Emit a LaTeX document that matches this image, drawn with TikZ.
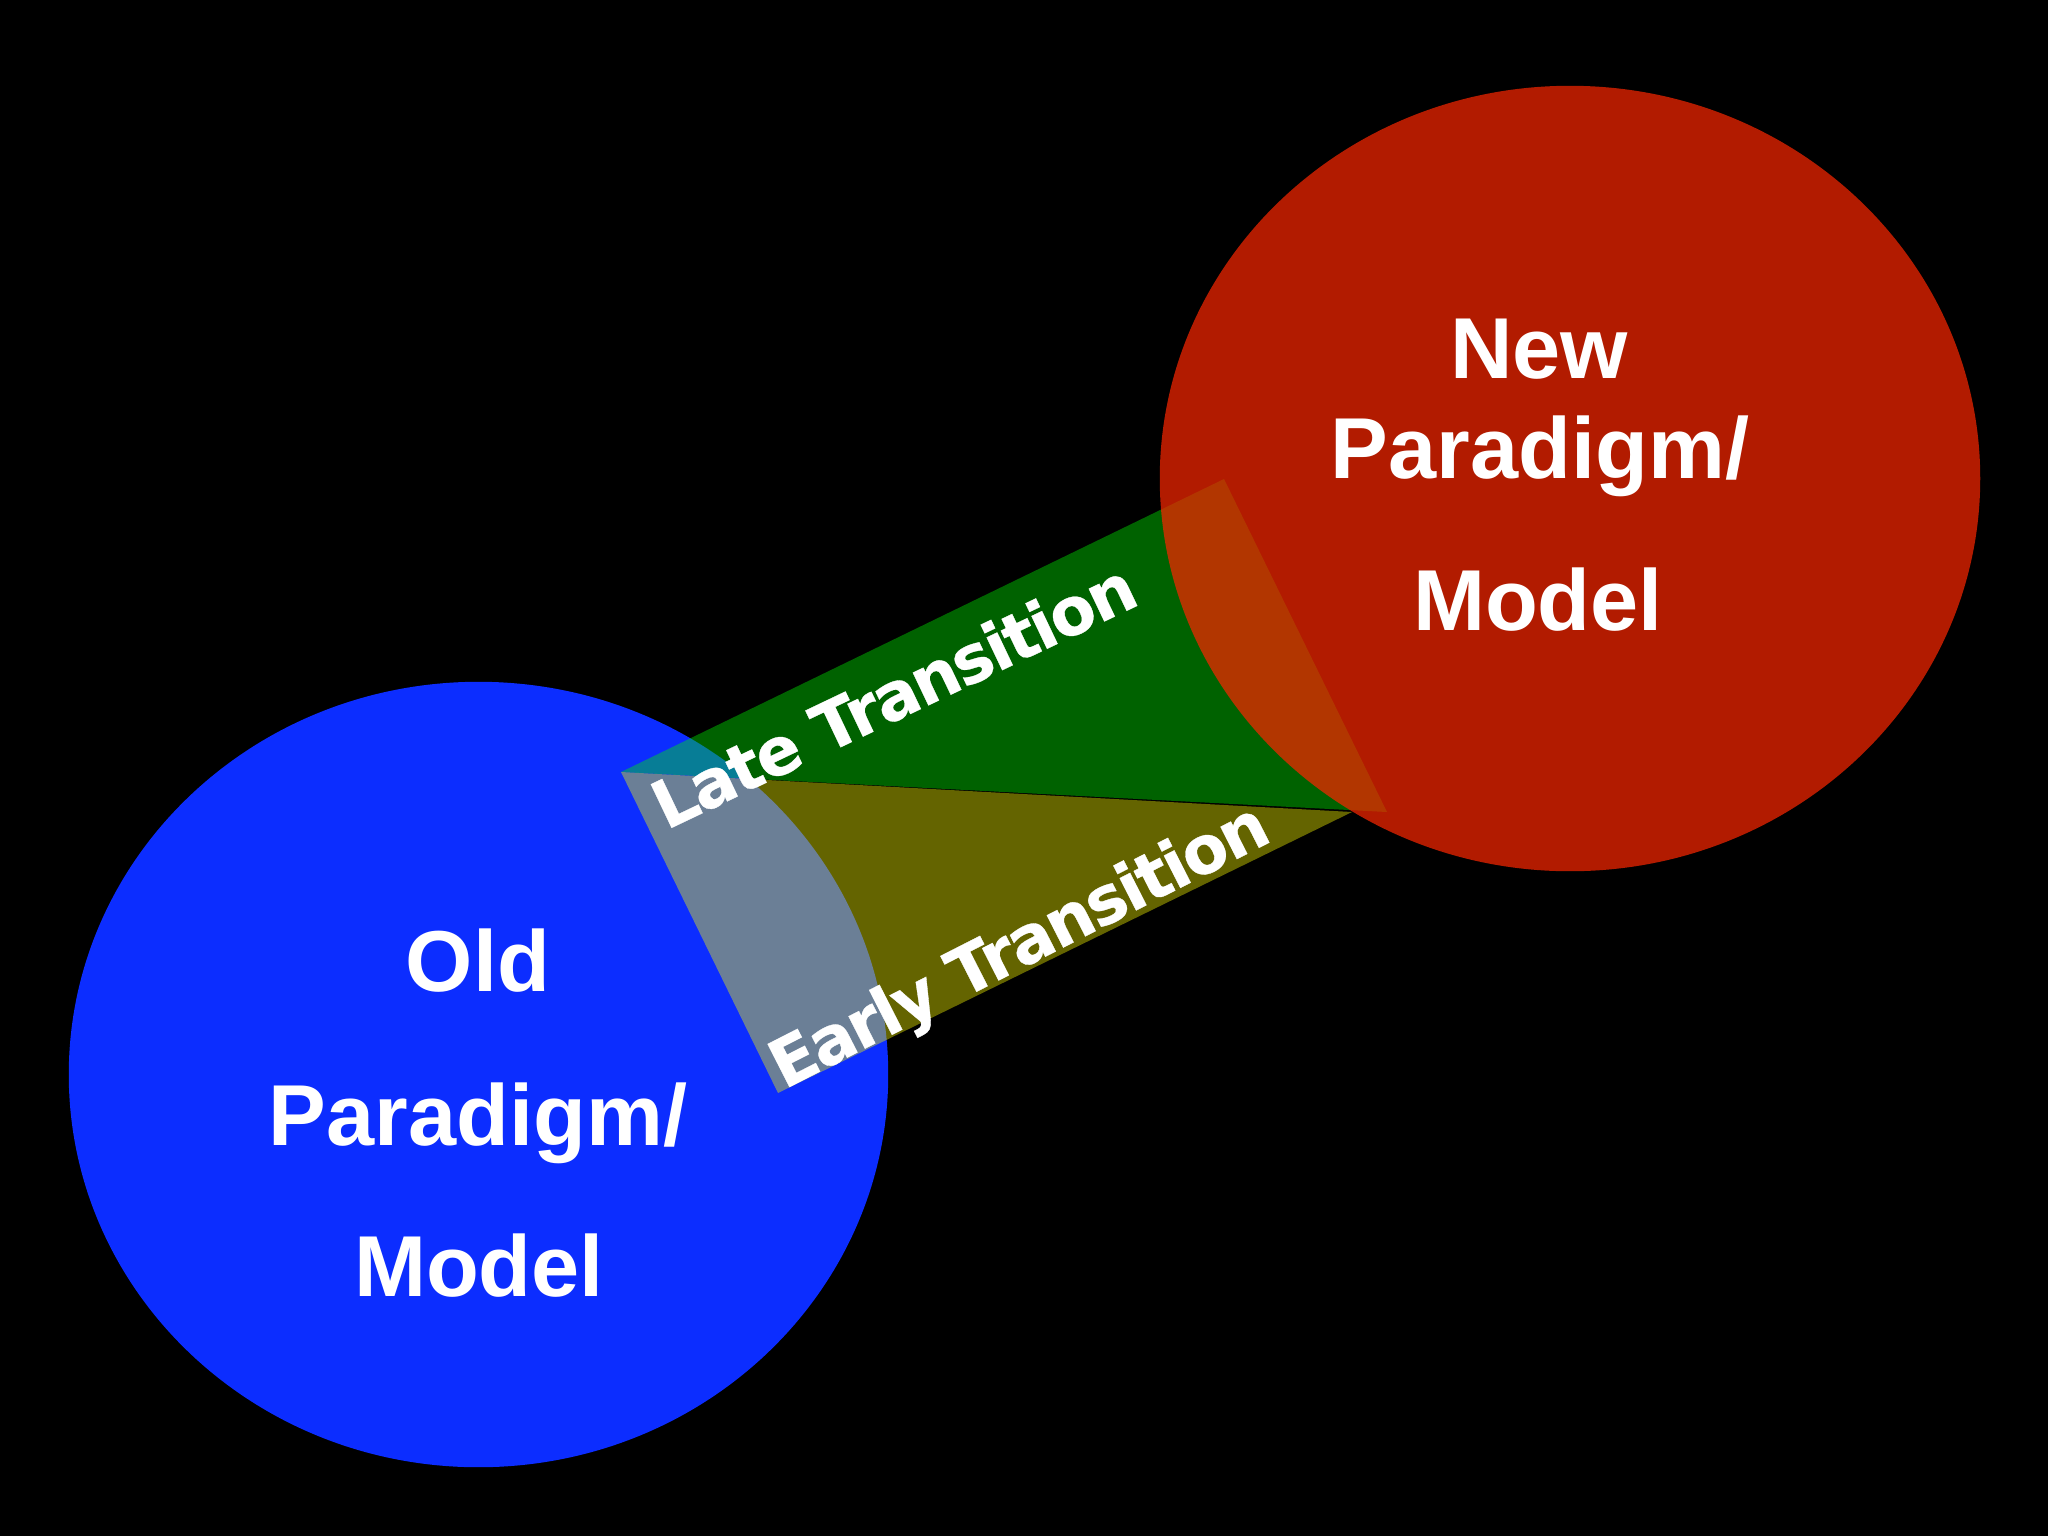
\documentclass[tikz,border=0pt]{standalone}
\usepackage{fontspec}
\setmainfont{Liberation Sans}
\newfontfamily\dvsfont{DejaVu Sans}[LetterSpace=-3.5,FakeBold=0.5]
\definecolor{oldblue}{RGB}{12,45,255}
\definecolor{newred}{RGB}{247,38,0}
\definecolor{lategreen}{RGB}{0,240,0}
\definecolor{earlyyellow}{RGB}{245,245,0}
\tikzset{
  circlelbl/.style={text=white,inner sep=0pt,anchor=base,font=\fontsize{24.6}{29}\selectfont\bfseries},
  translbl/.style={text=white,inner sep=0pt,anchor=base,font=\dvsfont\bfseries\fontsize{18.8}{22}\selectfont},
  band/.style={fill opacity=0.41}
}
\begin{document}
\begin{tikzpicture}[x=0.01cm,y=-0.01cm]
\useasboundingbox (0,0) rectangle (2048,1536);
\fill[black] (0,0) rectangle (2048,1536);
% old paradigm circle
\fill[oldblue] (478.5,1074.5) ellipse [x radius=4.095cm, y radius=3.925cm];
% transition bands
\coordinate (A) at (621,772);
\coordinate (B) at (1224,479);
\coordinate (C) at (1387,812);
\coordinate (E) at (1352,812);
\coordinate (D) at (778,1093);
\fill[lategreen,band] (A) -- (B) -- (C) -- cycle;
\fill[earlyyellow,band] (A) -- (E) -- (D) -- cycle;
% new paradigm circle
\fill[newred,fill opacity=0.72] (1570,478.5) ellipse [x radius=4.10cm, y radius=3.925cm];
% labels
\node[circlelbl] (new1) at (1539,378.3) {New};
\node[circlelbl] (new2) at (1540,478.3) {Paradigm/};
\node[circlelbl] (new3) at (1538,630) {Model};
\node[circlelbl] (old1) at (478,991.7) {Old};
\node[circlelbl] (old2) at (478,1145) {Paradigm/};
\node[circlelbl] (old3) at (479,1296.7) {Model};
\node[translbl,rotate=25.5] (late) at (904,717) {Late Transition};
\node[translbl,rotate=27] (early) at (1029,965) {Early Transition};
\end{tikzpicture}
\end{document}
